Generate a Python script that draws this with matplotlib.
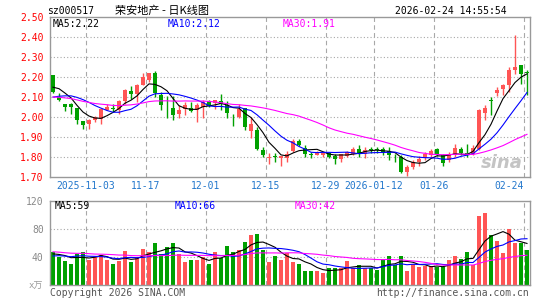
import matplotlib
matplotlib.use('Agg')
import matplotlib.pyplot as plt
import numpy as np
import pandas as pd

# daily bars sz000517, 2025-10-24 .. 2026-02-24 (80 sessions)
opens = [2.21, 2.10, 2.067, 2.067, 2.047, 1.978, 1.963, 1.983, 1.992, 2.037,
	2.045, 2.033, 2.08, 2.128, 2.117, 2.158, 2.183, 2.22, 2.108, 2.06,
	2.047, 2.017, 2.042, 2.047, 2.033, 2.05, 2.08, 2.07, 2.08, 2.058,
	2.01, 2.0, 2.047, 1.93, 1.933, 1.837, 1.795, 1.803, 1.795, 1.795,
	1.83, 1.88, 1.847, 1.815, 1.812, 1.808, 1.82, 1.803, 1.792, 1.803,
	1.813, 1.842, 1.813, 1.84, 1.838, 1.842, 1.83, 1.805, 1.80, 1.725,
	1.75, 1.775, 1.797, 1.812, 1.842, 1.812, 1.783, 1.808, 1.842, 1.82,
	1.817, 1.842, 2.02, 2.083, 2.12, 2.142, 2.158, 2.233, 2.258, 2.222]
highs = [2.21, 2.12, 2.067, 2.07, 2.047, 1.98, 1.99, 2.005, 2.047, 2.067,
	2.067, 2.083, 2.142, 2.153, 2.167, 2.22, 2.22, 2.23, 2.125, 2.103,
	2.103, 2.058, 2.075, 2.075, 2.07, 2.083, 2.083, 2.085, 2.117, 2.08,
	2.017, 2.067, 2.047, 2.0, 1.95, 1.85, 1.82, 1.82, 1.803, 1.83,
	1.892, 1.892, 1.858, 1.825, 1.83, 1.825, 1.825, 1.817, 1.817, 1.83,
	1.85, 1.858, 1.85, 1.85, 1.85, 1.85, 1.85, 1.817, 1.808, 1.758,
	1.787, 1.803, 1.825, 1.842, 1.847, 1.817, 1.825, 1.867, 1.85, 1.867,
	1.858, 2.042, 2.058, 2.10, 2.15, 2.167, 2.25, 2.408, 2.258, 2.237]
lows = [2.12, 2.078, 2.03, 2.013, 1.967, 1.942, 1.942, 1.975, 1.967, 2.033,
	2.025, 2.017, 2.067, 2.092, 2.075, 2.158, 2.175, 2.10, 2.033, 1.997,
	1.987, 1.997, 2.008, 2.025, 1.975, 1.997, 2.05, 2.04, 2.033, 1.997,
	1.953, 1.997, 1.933, 1.897, 1.837, 1.80, 1.763, 1.775, 1.753, 1.775,
	1.825, 1.853, 1.80, 1.797, 1.81, 1.80, 1.797, 1.767, 1.775, 1.80,
	1.808, 1.80, 1.797, 1.82, 1.822, 1.808, 1.787, 1.775, 1.72, 1.703,
	1.742, 1.753, 1.783, 1.80, 1.803, 1.753, 1.775, 1.80, 1.808, 1.80,
	1.808, 1.837, 1.987, 2.008, 2.103, 2.108, 2.125, 2.213, 2.167, 2.108]
closes = [2.125, 2.083, 2.05, 2.05, 1.983, 1.958, 1.983, 2.0, 2.042, 2.05,
	2.04, 2.08, 2.133, 2.117, 2.158, 2.20, 2.22, 2.12, 2.058, 2.058,
	2.008, 2.037, 2.058, 2.03, 2.058, 2.075, 2.057, 2.083, 2.067, 2.02,
	2.008, 2.042, 1.95, 1.967, 1.842, 1.808, 1.80, 1.80, 1.803, 1.817,
	1.88, 1.858, 1.817, 1.812, 1.825, 1.82, 1.80, 1.792, 1.813, 1.825,
	1.842, 1.82, 1.837, 1.837, 1.836, 1.825, 1.808, 1.803, 1.725, 1.75,
	1.775, 1.792, 1.817, 1.828, 1.817, 1.77, 1.817, 1.847, 1.82, 1.808,
	1.847, 2.037, 2.047, 2.08, 2.137, 2.158, 2.237, 2.25, 2.213, 2.22]
volumes = [46.5, 40, 34, 29.7, 44, 47, 35.5, 40, 42, 35.5,
	29.7, 34, 48.4, 33, 40, 51, 47, 60, 44, 54,
	60, 44, 32.6, 35.5, 35.5, 39.8, 29.7, 47, 38, 55.6,
	47, 50, 61, 71, 73, 50, 32.6, 41, 35.5, 45,
	32.6, 29.7, 20, 20, 20, 17, 23, 23, 23, 34,
	23, 28, 23, 23, 21, 36, 41, 28, 41, 20,
	29.7, 25, 26, 27, 25, 25, 35.5, 41, 37, 46,
	28, 98.7, 103, 71.4, 62, 45, 80, 60, 60, 50]

# the 29 sessions before the first bar, only needed to seed the moving averages
closes_before = [2.12, 2.14, 2.16, 2.18, 2.17, 2.15, 2.16, 2.14, 2.13, 2.15,
	2.10, 2.08, 2.06, 2.04, 2.03, 2.02, 2.03, 2.04, 2.05, 2.05,
	2.04, 2.03, 2.05, 2.06, 2.07, 2.12, 2.16, 2.17, 2.17]
volumes_before = [55, 60, 48, 52, 45, 50, 58, 47, 43, 42,
	52, 49, 55, 46, 50, 53, 47, 48, 51, 49,
	36, 40, 38, 35, 41, 44, 42, 45, 42.5]

tick_idx = [6, 16, 26, 36, 46, 54, 64, 79]
tick_labels = ['2025-11-03', '11-17', '12-01', '12-15', '12-29', '2026-01-12', '01-26', '02-24']
price_ticks = [1.70, 1.80, 1.90, 2.00, 2.10, 2.20, 2.30, 2.40, 2.50]
vol_ticks = [40, 80, 120]

RED = '#ff5555'
GREEN = '#00a000'
GRID = '#a8a8a8'
MONO = ['DejaVu Sans Mono', 'Noto Sans CJK SC']
W, H = 545, 300


def fx(px):
	return px / W


def fy(py):
	return 1 - py / H


def moving_averages(before, values, windows=(5, 10, 30)):
	s = pd.Series(list(before) + list(values))
	n = len(before)
	return [s.rolling(w).mean().to_numpy()[n:] for w in windows]


def style_axes(ax):
	for sp in ax.spines.values():
		sp.set_color('#999999')
		sp.set_linewidth(1)
	ax.set_xlim(-0.5, 79.5)
	ax.set_xticks([])
	ax.tick_params(axis='y', length=0, pad=4.5, labelsize=7)
	for i in tick_idx:
		ax.axvline(i - 0.5, color=GRID, lw=0.8, dashes=(4, 3), zorder=0)


def main():
	o = np.array(opens)
	h = np.array(highs)
	l = np.array(lows)
	c = np.array(closes)
	v = np.array(volumes)
	x = np.arange(len(c))
	up = c >= o
	colors = np.where(up, RED, GREEN)

	fig = plt.figure(figsize=(W / 100, H / 100), dpi=100)

	# price panel
	ax = fig.add_axes([fx(50), fy(177), fx(480), 160 / H])
	style_axes(ax)
	ax.set_ylim(1.70, 2.50)
	ax.set_yticks(price_ticks)
	ax.set_yticklabels(['%.2f' % t for t in price_ticks], color='red', family='DejaVu Sans Mono')
	for t in price_ticks[1:-1]:
		ax.axhline(t, color=GRID, lw=0.8, ls=(0, (1, 2)), zorder=0)

	ax.vlines(x, l, h, colors=colors, lw=1, zorder=2)
	body = np.maximum(np.abs(c - o), 0.004)
	ax.bar(x, body, bottom=np.minimum(o, c), width=0.7, color=colors, lw=0, zorder=3)

	ma5, ma10, ma30 = moving_averages(closes_before, closes)
	ax.plot(x, ma5, color='black', lw=0.8, zorder=4)
	ax.plot(x, ma10, color='blue', lw=0.8, zorder=4)
	ax.plot(x, ma30, color='magenta', lw=0.8, zorder=4)

	for i, lab in zip(tick_idx, tick_labels):
		ha = 'right' if i == tick_idx[-1] else 'center'
		ax.text(i - 0.5, -9 / 160, lab, transform=ax.get_xaxis_transform(), ha=ha, va='center',
			fontsize=7, color='#2277cc', family='DejaVu Sans Mono')

	ax.text(0.985, 0.085, 'sina', transform=ax.transAxes, ha='right', va='center', fontsize=13,
		color='#c4c4c4', style='italic', weight='bold', zorder=1)

	# volume panel
	axv = fig.add_axes([fx(50), fy(284.5), fx(480), 83.5 / H])
	style_axes(axv)
	axv.set_ylim(0, 120)
	axv.set_yticks(vol_ticks)
	axv.set_yticklabels([str(t) for t in vol_ticks], color='#888888', family='DejaVu Sans Mono')
	for t in vol_ticks[:-1]:
		axv.axhline(t, color=GRID, lw=0.8, ls=(0, (1, 2)), zorder=0)
	axv.bar(x, v, width=0.75, color=colors, lw=0, zorder=2)
	vma5, vma10, vma30 = moving_averages(volumes_before, volumes)
	axv.plot(x, vma5, color='black', lw=0.8, zorder=4)
	axv.plot(x, vma10, color='blue', lw=0.8, zorder=4)
	axv.plot(x, vma30, color='magenta', lw=0.8, zorder=4)

	# texts
	fig.text(fx(47), fy(11), 'sz000517', fontsize=7, family='DejaVu Sans Mono', va='center')
	fig.text(fx(115), fy(11), '荣安地产 - 日K线图', fontsize=8, family=['Noto Sans CJK SC', 'DejaVu Sans'], va='center')
	fig.text(fx(507), fy(11), '2026-02-24 14:55:54', fontsize=7, family='DejaVu Sans Mono', va='center', ha='right')

	fig.text(fx(53), fy(24), 'MA5:%.2f' % ma5[-1], fontsize=7, family='DejaVu Sans Mono', va='center', color='black')
	fig.text(fx(168), fy(24), 'MA10:%.2f' % ma10[-1], fontsize=7, family='DejaVu Sans Mono', va='center', color='blue')
	fig.text(fx(283), fy(24), 'MA30:%.2f' % ma30[-1], fontsize=7, family='DejaVu Sans Mono', va='center', color='magenta')

	fig.text(fx(55), fy(206), 'MA5:%d' % round(vma5[-1]), fontsize=7, family='DejaVu Sans Mono', va='center', color='black')
	fig.text(fx(175), fy(206), 'MA10:%d' % round(vma10[-1]), fontsize=7, family='DejaVu Sans Mono', va='center', color='blue')
	fig.text(fx(295), fy(206), 'MA30:%d' % round(vma30[-1]), fontsize=7, family='DejaVu Sans Mono', va='center', color='magenta')

	fig.text(fx(43), fy(286), 'x万', fontsize=6.5, family=MONO, va='center', ha='right', color='#999999')
	fig.text(fx(50), fy(293), 'Copyright 2026 SINA.COM', fontsize=7, family='DejaVu Sans Mono', va='center', color='#555555')
	fig.text(fx(529), fy(293), 'http://finance.sina.com.cn', fontsize=7, family='DejaVu Sans Mono', va='center', ha='right', color='#555555')

	fig.savefig('out.png', dpi=100)


if __name__ == '__main__':
	main()
